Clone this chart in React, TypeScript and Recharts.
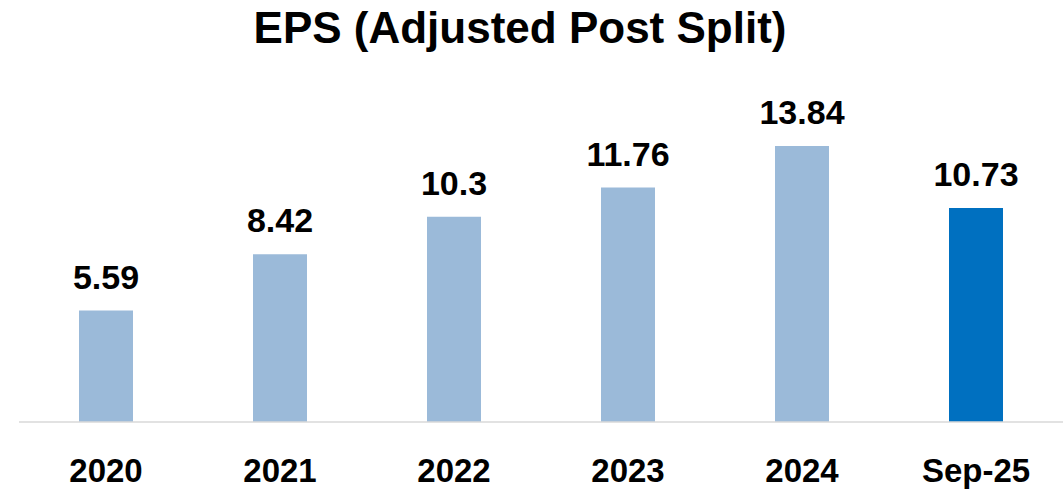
import React from "react";
import { Bar, BarChart, Cell, LabelList, XAxis, YAxis } from "recharts";

const periods = ["2020", "2021", "2022", "2023", "2024", "Sep-25"];
const eps = [5.59, 8.42, 10.3, 11.76, 13.84, 10.73];
const barColors = ["#9BBAD9", "#9BBAD9", "#9BBAD9", "#9BBAD9", "#9BBAD9", "#0070C0"];

const data = periods.map((p, i) => ({ period: p, eps: eps[i] }));

const FONT = "'Liberation Sans', Arial, sans-serif";

const PeriodTick = (props: any) => {
  const { x, y, payload } = props;
  return (
    <text x={x} y={y + 60} textAnchor="middle" fontFamily={FONT} fontWeight="bold" fontSize={33} fill="#000">
      {payload.value}
    </text>
  );
};

export default function App() {
  return (
    <div style={{ position: "absolute", left: 0, top: 0, width: 1064, height: 492, background: "#fff" }}>
      <div
        style={{
          position: "absolute",
          left: 0,
          top: 3,
          width: 1040,
          textAlign: "center",
          fontFamily: FONT,
          fontWeight: "bold",
          fontSize: 44,
          lineHeight: "50px",
          color: "#000",
        }}
      >
        EPS (Adjusted Post Split)
      </div>
      <BarChart width={1064} height={492} data={data} margin={{ top: 103, right: 1, left: 19, bottom: 30 }}>
        <XAxis
          dataKey="period"
          height={40}
          tickLine={false}
          tickSize={0}
          tickMargin={0}
          axisLine={{ stroke: "#D9D9D9", strokeWidth: 1.5 }}
          tick={<PeriodTick />}
          interval={0}
        />
        <YAxis hide domain={[0, 16]} />
        <Bar dataKey="eps" barSize={54} isAnimationActive={false}>
          {data.map((d, i) => (
            <Cell key={d.period} fill={barColors[i]} />
          ))}
          <LabelList
            dataKey="eps"
            position="top"
            offset={22}
            fontFamily={FONT}
            fontWeight="bold"
            fontSize={34}
            fill="#000"
          />
        </Bar>
      </BarChart>
    </div>
  );
}
